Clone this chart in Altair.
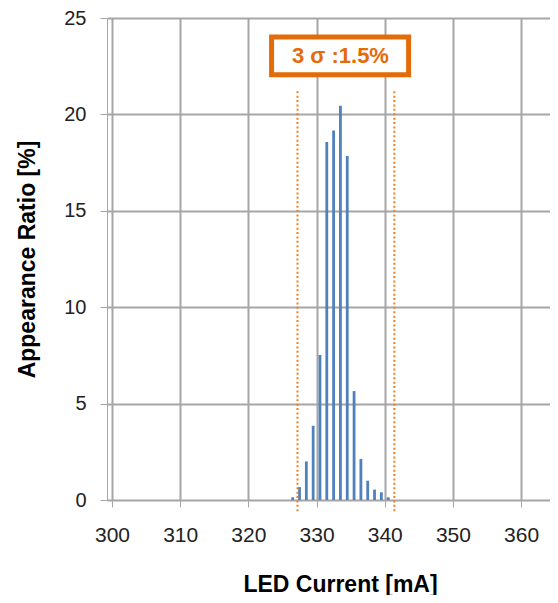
import altair as alt
import pandas as pd

# LED current bins (mA) and appearance ratio (%)
current_ma = [326.5, 327.5, 328.5, 329.5, 330.5, 331.5, 332.5, 333.5,
              334.5, 335.5, 336.5, 337.5, 338.5, 339.5, 340.5]
ratio_pct = [0.14, 0.67, 2.0, 3.85, 7.52, 18.57, 19.17, 20.45,
             17.84, 5.65, 2.13, 1.0, 0.54, 0.40, 0.14]

# 3-sigma limit lines (mA)
sigma_limits = [327.2, 341.4]
annotation_text = "3 σ :1.5%"

x_ticks = [300, 310, 320, 330, 340, 350, 360]
y_ticks = [0, 5, 10, 15, 20, 25]

FONT = "Liberation Sans"
ORANGE = "#E36C09"
GRID = "#a6a6a6"

bars_df = pd.DataFrame({"current": current_ma, "ratio": ratio_pct})
lines_df = pd.DataFrame({"current": sigma_limits, "top": [21.2, 21.2], "bottom": [-0.63, -0.63]})
box_df = pd.DataFrame({"x": [323.4], "x2": [343.5], "y": [22.06], "y2": [24.02]})
text_df = pd.DataFrame({"x": [333.5], "y": [23.04], "label": [annotation_text]})

xscale = alt.Scale(domain=[300, 363.5], nice=False, zero=False)
yscale = alt.Scale(domain=[0, 25], nice=False)

xaxis = alt.Axis(values=x_ticks, title="LED Current [mA]", grid=True,
                 gridColor=GRID, gridWidth=2, domainColor=GRID, tickColor=GRID,
                 tickSize=7, labelFont=FONT, labelFontSize=21, labelColor="#222222",
                 labelPadding=17, titleFont=FONT, titleFontSize=23, titleFontWeight="bold",
                 titleColor="#000000", titleX=233, titleY=91, titleBaseline="alphabetic")
yaxis = alt.Axis(values=y_ticks, title="Appearance Ratio [%]", grid=True,
                 gridColor=GRID, gridWidth=2, domainColor=GRID, tickColor=GRID,
                 tickSize=7, labelFont=FONT, labelFontSize=20, labelColor="#222222",
                 labelPadding=14, titleFont=FONT, titleFontSize=23, titleFontWeight="bold",
                 titleColor="#000000", titleX=-73, titleBaseline="alphabetic")

bars = alt.Chart(bars_df).mark_bar(size=2.8, color="#4F81BD").encode(
    x=alt.X("current:Q", scale=xscale, axis=xaxis),
    y=alt.Y("ratio:Q", scale=yscale, axis=yaxis),
)

lines = alt.Chart(lines_df).mark_rule(color="#F07F1E", strokeWidth=2, strokeDash=[2, 2.4]).encode(
    x=alt.X("current:Q", scale=xscale),
    y=alt.Y("top:Q", scale=yscale),
    y2="bottom:Q",
)

box = alt.Chart(box_df).mark_rect(fill="white", stroke=ORANGE, strokeWidth=5).encode(
    x=alt.X("x:Q", scale=xscale), x2="x2:Q",
    y=alt.Y("y:Q", scale=yscale), y2="y2:Q",
)

text = alt.Chart(text_df).mark_text(font=FONT, fontSize=22, fontWeight="bold",
                                    color=ORANGE, align="center", baseline="middle").encode(
    x=alt.X("x:Q", scale=xscale),
    y=alt.Y("y:Q", scale=yscale),
    text="label:N",
)

chart = alt.layer(bars, lines, box, text).properties(
    width=443, height=482,
    autosize=alt.AutoSizeParams(type="none"),
    padding={"left": 99, "top": 10, "right": 0, "bottom": 95},
).configure_view(stroke=None)

chart.save("out.html", embed_options={"renderer": "svg", "actions": False})
